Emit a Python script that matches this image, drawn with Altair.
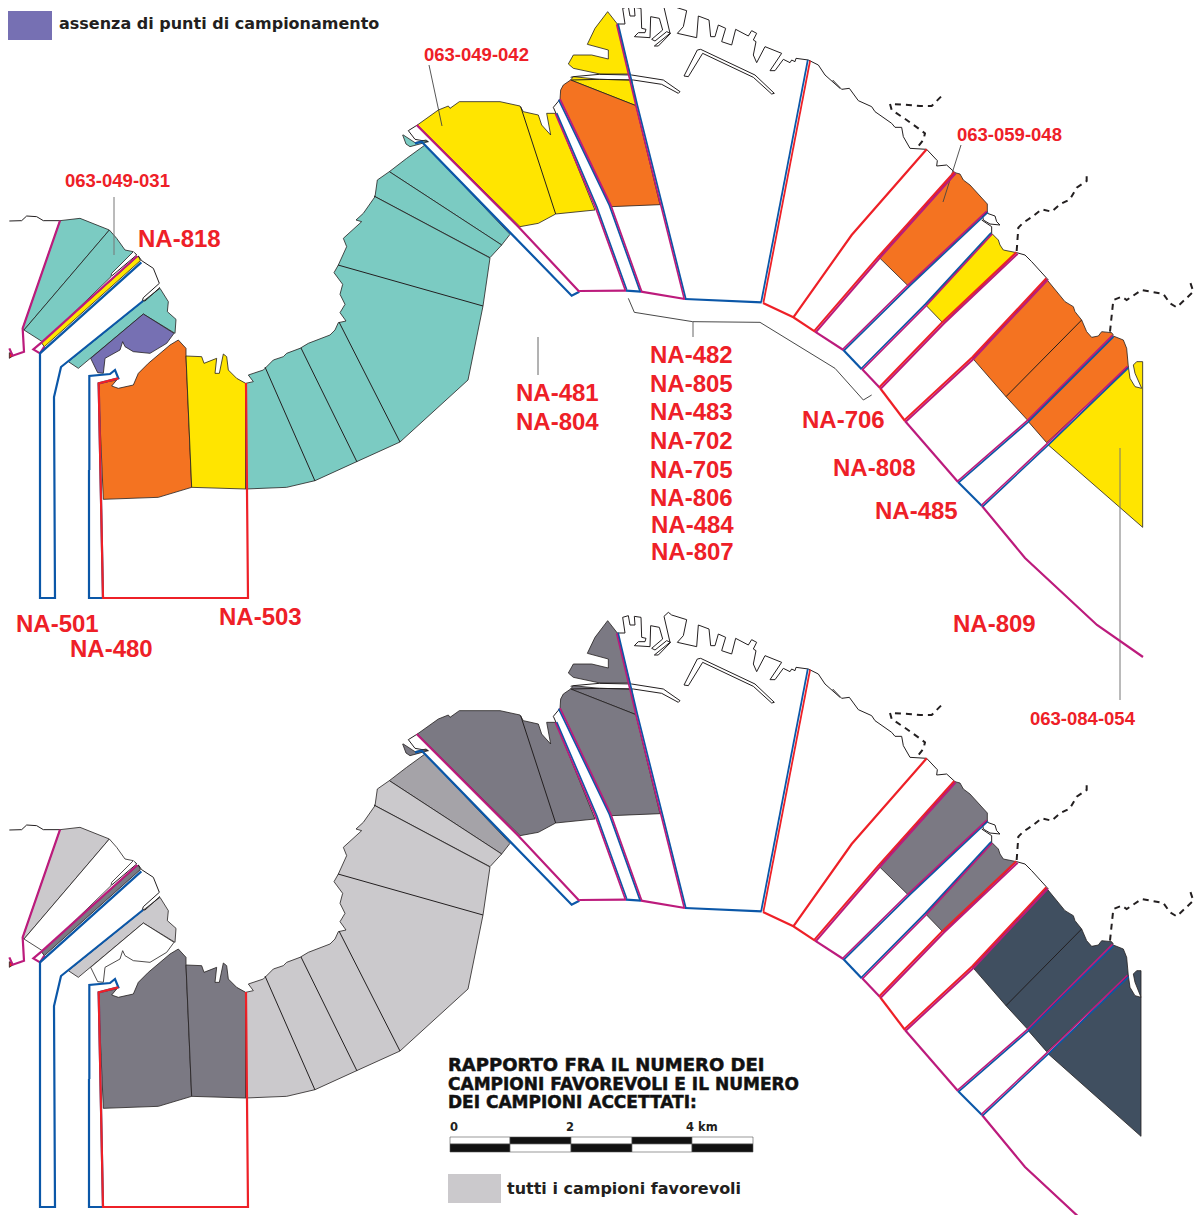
import altair as alt

# ---- colours
TEAL, ORANGE, YELLOW, PURPLE = "#7bcbc2", "#f47321", "#ffe500", "#7670b3"
DARK, MID, LIGHT, NAVY, WHITE = "#7b7983", "#a5a3a8", "#cbc9cc", "#404f60", "#ffffff"
RED, MAG, BLUE, INK = "#ee2027", "#bc1b7c", "#0b57a8", "#231f20"
PANEL_SHIFT = 609
BOTTOM_CLIP = 1141


def z(ox, oy, pts):
    """points read on a 3x crop whose corner is (ox, oy)"""
    return [[ox + a / 3, oy + b / 3] for a, b in pts]


# ---- filled zones: name, outline, fill in upper map, fill in lower map
wedge_a = z(0, 170, [(180,152),(240,145),(328,180),(72,480),(68,475)])
wedge_b = z(0, 170, [(328,180),(350,205),(375,240),(400,245),(335,310),(333,320),(130,517),(72,480)])
strip = z(0, 170, [(415,258),(421,272),(133,530),(124,518)])
narrow = z(0, 170, [(205,575),(430,393),(480,355),(505,395),(502,425),(528,448),(525,490),(430,432),(235,595)])
purple = z(0, 170, [(430,432),(522,490),(500,520),(450,550),(400,545),(375,530),(368,515),(360,540),(315,565),(310,610),(293,608),(272,565)])
orange_w = z(60, 330, [(115,160),(170,150),(155,168),(175,175),(220,165),(235,130),(265,100),(330,45),(355,30),(378,55),(378,78),(395,472),(295,502),(130,508)])
yellow_w = z(60, 330, [(378,78),(425,80),(432,100),(470,85),(465,130),(478,130),(490,72),(500,80),(505,120),(530,145),(557,160),(557,477),(395,472)])
lobe_1 = z(300, 0, [(375,435),(320,475),(268,515),(605,735),(630,703)])
lobe_2 = z(300, 0, [(268,515),(232,540),(225,590),(222,588),(570,773),(605,735)])
lobe_3 = (z(300, 0, [(225,590),(190,640),(168,660),(185,665),(130,715),(140,740),(115,795)])
          + z(330, 1, [(12,815),(38,850),(30,880),(45,910),(30,935),(48,960),(25,965)])
          + z(60, 330, [(825,0),(810,15),(745,40),(720,55),(680,70),(670,80),(640,90),(610,120),(565,135),(580,155),(557,160),(557,477),(680,472),(765,452),(890,395)])
          + [[400,442],[468,380],[483,306],[490,258]])
islet = z(300, 0, [(308,405),(318,432),(330,440),(385,425),(378,420),(345,428),(310,405)])
central = z(300, 0, [(352,375),(415,330),(445,318),(450,325),(478,305),(600,305),(660,318),(670,335),(715,345),(725,375),(752,405),(740,340),(768,340),(885,630),(767,642),(715,670),(660,680)])
north_1 = z(540, 0, [(203,35),(232,72),(270,222),(180,222),(100,205),(85,192),(100,165),(155,165),(205,177),(205,150),(142,133),(165,85)])
north_2 = z(540, 0, [(92,240),(100,230),(178,238),(275,240),(288,317)])
north_3 = z(540, 0, [(92,240),(288,317),(360,614),(213,620),(60,298),(62,270),(70,255)])
east_1 = z(780, 80, [(525,278),(540,282),(550,300),(570,315),(622,372),(622,395),(385,618),(297,532)])
east_2 = z(780, 80, [(635,460),(655,480),(660,495),(670,510),(710,518),(490,730),(437,675)])
east_3 = z(900, 250, [(440,88),(495,155),(520,170),(525,185),(545,210),(560,245),(575,262),(595,258),(605,245),(635,248),(640,255),(385,513),(318,440),(218,325)])
east_4 = z(900, 250, [(640,258),(670,270),(680,295),(685,350),(440,578),(385,515)])
east_5 = z(900, 250, [(685,350),(690,385),(705,410),(725,415),(705,370),(700,345),(710,335),(728,335),(728,832),(445,585)])
corner = z(0, 170, [(28,548),(40,557),(28,565)])

ZONES = [
    (wedge_a, TEAL, LIGHT), (wedge_b, TEAL, WHITE), (strip, YELLOW, DARK),
    (narrow, TEAL, LIGHT), (purple, PURPLE, WHITE), (orange_w, ORANGE, DARK),
    (yellow_w, YELLOW, DARK), (lobe_1, TEAL, MID), (lobe_2, TEAL, LIGHT),
    (lobe_3, TEAL, LIGHT), (islet, TEAL, DARK), (central, YELLOW, DARK),
    (north_1, YELLOW, DARK), (north_2, YELLOW, DARK), (north_3, ORANGE, DARK),
    (east_1, ORANGE, DARK), (east_2, YELLOW, DARK), (east_3, ORANGE, NAVY),
    (east_4, ORANGE, NAVY), (east_5, YELLOW, NAVY), (corner, RED, RED),
]

# ---- thin black lines
THIN = [
    z(0, 170, [(28,153),(65,152),(80,138),(110,140),(130,152),(180,152)]),
    z(0, 170, [(403,247),(410,255),(335,318)]),
    z(0, 170, [(415,258),(425,272),(460,295),(478,340),(430,383),(427,392),(435,393),(480,352)]),
    z(300, 0, [(352,375),(325,392),(345,418),(385,425)]),
    z(300, 0, [(662,320),(767,642)]),
    [[338,265],[483,306]], [[339,322],[400,442]], [[301,348],[357,462]], [[265,367],[315,481]],
    z(540, 0, [(60,298),(40,322),(48,340)]),
    z(540, 0, [(232,72),(255,72),(248,25),(265,20),(270,48),(285,48),(283,22),(303,25),(305,85),(318,88),(315,98),(295,98),(283,110),(330,113),(332,50),(358,55),(368,90),(335,118),(345,123),(380,95),(392,100),(355,138),(343,138),(390,100),(372,22),(385,10),(395,18),(440,32),(430,80),(412,100),(470,113),(475,48),(507,60),(512,110),(525,110),(535,75),(557,85),(545,125),(575,135),(587,88),(625,108),(635,92),(650,100),(640,120),(648,125),(640,165),(650,188),(675,140),(725,160),(690,212),(705,212),(730,178),(750,188),(755,180),(765,185),(768,175),(805,180),(835,195),(855,225),(900,265)]),
    z(540, 0, [(92,232),(100,230),(178,223),(275,225),(370,240),(420,275),(415,280),(365,253),(280,240),(178,238),(95,240)]),
    z(540, 0, [(432,228),(472,150),(482,148),(645,225),(703,280),(695,282),(640,232),(488,160),(445,230),(432,228)]),
    z(780, 80, [(158,0),(185,28),(208,25),(235,62),(275,80),(285,95),(335,130),(345,142),(365,142),(370,170),(390,205),(440,208),(472,242),(470,258),(500,255),(525,278)]),
    z(780, 80, [(622,395),(608,408),(610,420),(630,432),(660,435),(650,425),(645,408),(622,400)]),
    z(780, 80, [(605,420),(635,440),(635,460)]),
    z(780, 80, [(710,518),(735,525),(755,545),(805,600)]),
    z(900, 250, [(545,210),(318,440)]),
]

# ---- coloured boundary lines: outline, colour, width, sideways nudge
COLOURED = [
    (z(0, 170, [(180,152),(68,475),(72,545),(38,557),(28,535)]), MAG, 2.2, (0, 0)),
    (z(0, 170, [(125,517),(100,538),(120,550),(133,530)]), MAG, 2.2, (0, 0)),
    (z(0, 170, [(412,258),(125,517)]), MAG, 2.2, (0, 0)),
    (z(0, 170, [(424,277),(120,550),(120,900)]) + [[40, 598], [55, 598], [54, 397], [61, 367], [143, 301]], BLUE, 2.2, (0, 0)),
    (z(0, 170, [(268,900),(268,618),(330,612),(345,600),(355,625),(296,640)]) + [[103, 598], [89, 598], [89, 470]], BLUE, 2.2, (0, 0)),
    (z(0, 170, [(355,625),(296,640)]) + [[103, 598], [248, 598], [246, 383]], RED, 2.2, (0, 0)),
    (z(300, 0, [(345,430),(365,425),(815,887),(838,875)]), BLUE, 2.2, (0, 0)),
    (z(300, 0, [(350,375),(655,680),(838,875)]), MAG, 2.2, (0, 0)),
    (z(540, 0, [(118,873),(258,872)]), MAG, 2.2, (0, 0)),
    (z(540, 0, [(258,872),(303,875)]), BLUE, 2.2, (0, 0)),
    (z(540, 0, [(303,875),(435,897)]), MAG, 2.2, (0, 0)),
    (z(540, 0, [(435,897),(665,907)]), BLUE, 2.2, (0, 0)),
    # channel beside the harbour
    (z(540, 0, [(48,340),(168,620),(258,870)]), BLUE, 1.7, (0.7, -0.2)),
    (z(540, 0, [(48,340),(168,620),(258,870)]), MAG, 1.7, (-0.7, 0.2)),
    (z(540, 0, [(58,298),(210,615),(303,875)]), BLUE, 1.7, (-0.7, 0.2)),
    (z(540, 0, [(58,298),(210,615),(303,875)]), MAG, 1.7, (0.7, -0.2)),
    # harbour sides
    (z(540, 0, [(232,72),(290,317),(435,897)]), BLUE, 1.8, (0.7, -0.2)),
    (z(540, 0, [(232,72),(290,317),(435,897)]), MAG, 1.6, (-0.7, 0.2)),
    (z(540, 0, [(805,180),(665,907)]), BLUE, 1.8, (-0.5, -0.1)),
    (z(540, 0, [(810,182),(670,908)]), RED, 1.8, (0.1, 0)),
    # south-east shore
    ([[763, 303]] + z(780, 80, [(40,712),(105,755)]), RED, 2.2, (0, 0)),
    (z(780, 80, [(105,755),(190,810)]), MAG, 2.2, (0, 0)),
    (z(780, 80, [(190,810),(245,868)]), BLUE, 2.2, (0, 0)),
    ([[862, 369], [880, 388]], MAG, 2.2, (0, 0)),
    ([[880, 388], [905, 421]], RED, 2.2, (0, 0)),
    ([[905, 421], [958, 482]], MAG, 2.2, (0, 0)),
    ([[958, 482], [982, 506]], BLUE, 2.2, (0, 0)),
    ([[982, 506], [1025, 558], [1097, 625], [1143, 657]], MAG, 2.2, (0, 0)),
    # diagonal limits
    (z(780, 80, [(440,208),(215,465),(40,712)]), RED, 2.2, (0, 0)),
    (z(780, 80, [(525,278),(297,532),(105,755)]), RED, 2.0, (-0.7, -0.7)),
    (z(780, 80, [(525,278),(297,532),(105,755)]), MAG, 2.0, (0.7, 0.7)),
    (z(780, 80, [(622,395),(385,618),(190,810)]), BLUE, 1.6, (0.6, 0.6)),
    (z(780, 80, [(622,395),(385,618),(190,810)]), MAG, 1.6, (-0.6, -0.6)),
    (z(780, 80, [(635,460),(437,675),(245,868)]), BLUE, 1.6, (-0.6, -0.6)),
    (z(780, 80, [(635,460),(437,675),(245,868)]), MAG, 1.6, (0.6, 0.6)),
    ([[1017, 253], [943, 323], [880, 388]], RED, 2.0, (-0.7, -0.7)),
    ([[1017, 253], [943, 323], [880, 388]], MAG, 2.0, (0.7, 0.7)),
    ([[1047, 279], [973, 358], [905, 421]], RED, 2.0, (-0.7, -0.7)),
    ([[1047, 279], [973, 358], [905, 421]], MAG, 2.0, (0.7, 0.7)),
    ([[1113, 336], [1028, 421], [958, 482]], BLUE, 1.6, (0.6, 0.6)),
    ([[1113, 336], [1028, 421], [958, 482]], MAG, 1.6, (-0.6, -0.6)),
    ([[1128, 367], [1048, 444], [982, 506]], BLUE, 1.6, (0.6, 0.6)),
    ([[1128, 367], [1048, 444], [982, 506]], MAG, 1.6, (-0.6, -0.6)),
]

# ---- dashed borders on land
DASHED = [
    z(780, 80, [(483,50),(455,78),(420,78),(385,75),(330,72),(335,90),(380,120),(415,145),(435,160),(430,180),(410,205)]),
    z(860, 171, [(470,240),(475,170),(490,155),(520,135),(545,115),(575,122),(600,100),(630,85),(650,50),(680,30),(680,15)]),
    z(900, 250, [(630,245),(640,150),(665,140),(680,150),(725,120),(790,132),(810,160),(830,172),(880,125),(870,95)]),
]

# ---- leaders, only on the upper map
LEADERS = [
    ([[114, 197], [114, 255]], "#777777", 1.0),
    ([[429, 65], [442, 126]], "#444444", 0.9),
    ([[961, 145], [943, 202]], "#444444", 0.9),
    ([[1120, 448], [1120, 700]], "#777777", 1.0),
    ([[538, 337], [538, 375]], "#555555", 0.9),
    ([[693, 322], [693, 337]], "#555555", 0.9),
    (z(540, 280, [(265,55),(283,97),(458,125),(660,127),(885,265),(970,360),(995,345)]), "#333333", 0.9),
]

# ---- labels
NA_LABELS = [
    ("NA-818", 138, 247), ("NA-481", 516, 401), ("NA-804", 516, 430),
    ("NA-482", 650, 363), ("NA-805", 650, 392), ("NA-483", 650, 420), ("NA-702", 650, 449),
    ("NA-705", 650, 478), ("NA-806", 650, 506), ("NA-484", 651, 533), ("NA-807", 651, 560),
    ("NA-706", 802, 428), ("NA-808", 833, 476), ("NA-485", 875, 519), ("NA-809", 953, 632),
    ("NA-501", 16, 632), ("NA-480", 70, 657), ("NA-503", 219, 625),
]
CODE_LABELS = [
    ("063-049-031", 65, 187), ("063-049-042", 424, 61),
    ("063-059-048", 957, 141), ("063-084-054", 1030, 725),
]
NOTE_LABELS = [
    ("assenza di punti di campionamento", 59, 29),
    ("tutti i campioni favorevoli", 507, 1194),
]
TITLE_LINES = [
    ("RAPPORTO FRA IL NUMERO DEI", 448, 1071, 18),
    ("CAMPIONI FAVOREVOLI E IL NUMERO", 448, 1089.5, 17),
    ("DEI CAMPIONI ACCETTATI:", 448, 1108, 17),
]
SCALE_TEXT = [("0", 450, 1131), ("2", 566, 1131), ("4 km", 686, 1131)]
SCALE_EDGES = [450, 510, 571, 632, 692, 753]
SCALE_ROWS = [(1137, 1144, ["#ffffff", "#111111", "#ffffff", "#111111", "#ffffff"]),
              (1144, 1152, ["#111111", "#ffffff", "#111111", "#ffffff", "#111111"])]
SWATCHES = [(0, 52, 11, 40, PURPLE), (448, 501, 1174, 1203, LIGHT)]

# ---- tables
def feature(kind, pts, **props):
    coords = [pts + [pts[0]]] if kind == "Polygon" else pts
    return {"type": "Feature", "geometry": {"type": kind, "coordinates": coords}, "properties": props}


def shifted(pts, dy=0, clip=None, nudge=(0, 0)):
    out = []
    for x, y in pts:
        x += nudge[0]
        if clip is not None:
            x = min(x, clip)
        out.append([x, y + nudge[1] + dy])
    return out


zone_rows, thin_rows, colour_rows, dash_rows = [], [], [], []
for pts, top, bottom in ZONES:
    zone_rows.append(feature("Polygon", shifted(pts), fill=top))
    zone_rows.append(feature("Polygon", shifted(pts, PANEL_SHIFT, BOTTOM_CLIP), fill=bottom))
for pts in THIN:
    thin_rows.append(feature("LineString", shifted(pts), c=INK, w=1.0))
    thin_rows.append(feature("LineString", shifted(pts, PANEL_SHIFT, BOTTOM_CLIP), c=INK, w=1.0))
for pts, col, wid in LEADERS:
    thin_rows.append(feature("LineString", shifted(pts), c=col, w=wid))
for pts, col, wid, nudge in COLOURED:
    colour_rows.append(feature("LineString", shifted(pts, nudge=nudge), c=col, w=wid))
    colour_rows.append(feature("LineString", shifted(pts, PANEL_SHIFT, BOTTOM_CLIP, nudge), c=col, w=wid))
for pts in DASHED:
    dash_rows.append(feature("LineString", shifted(pts)))
    dash_rows.append(feature("LineString", shifted(pts, PANEL_SHIFT)))

proj = dict(type="identity", scale=1, translate=[-8, -8])
X = alt.X("x:Q", scale=alt.Scale(domain=[8, 1194], range=[0, 1186], nice=False, zero=False), axis=None)
Y = alt.Y("y:Q", scale=alt.Scale(domain=[8, 1215], range=[0, 1207], nice=False, zero=False), axis=None)
X2, Y2 = alt.X2("x2:Q"), alt.Y2("y2:Q")

zones = alt.Chart(alt.Data(values=zone_rows)).mark_geoshape(stroke=INK, strokeWidth=0.8).encode(
    fill=alt.Fill("properties.fill:N", scale=None)).project(**proj)
thin = alt.Chart(alt.Data(values=thin_rows)).mark_geoshape(filled=False).encode(
    stroke=alt.Stroke("properties.c:N", scale=None),
    strokeWidth=alt.StrokeWidth("properties.w:Q", scale=None)).project(**proj)
coloured = alt.Chart(alt.Data(values=colour_rows)).mark_geoshape(filled=False).encode(
    stroke=alt.Stroke("properties.c:N", scale=None),
    strokeWidth=alt.StrokeWidth("properties.w:Q", scale=None)).project(**proj)
dashed = alt.Chart(alt.Data(values=dash_rows)).mark_geoshape(
    filled=False, stroke=INK, strokeWidth=2, strokeDash=[6, 5]).project(**proj)

bar_rows = [{"x": SCALE_EDGES[i], "x2": SCALE_EDGES[i + 1], "y": top, "y2": bot, "f": cols[i]}
            for top, bot, cols in SCALE_ROWS for i in range(5)]
bars = alt.Chart(alt.Data(values=bar_rows)).mark_rect(stroke="#555555", strokeWidth=0.6).encode(
    x=X, x2=X2, y=Y, y2=Y2, fill=alt.Fill("f:N", scale=None))
swatches = alt.Chart(alt.Data(values=[
    {"x": a, "x2": b, "y": c, "y2": d, "f": f} for a, b, c, d, f in SWATCHES
])).mark_rect().encode(x=X, x2=X2, y=Y, y2=Y2, fill=alt.Fill("f:N", scale=None))


def text_layer(rows, font, size, color, **kw):
    data = alt.Data(values=[{"t": t, "x": x, "y": y} for t, x, y in rows])
    return alt.Chart(data).mark_text(align="left", baseline="alphabetic", font=font, fontWeight="bold",
                                     fontSize=size, color=color, **kw).encode(x=X, y=Y, text="t:N")


layers = [zones, thin, coloured, dashed, swatches, bars,
          text_layer(NA_LABELS, "Liberation Sans", 24, RED),
          text_layer(CODE_LABELS, "Liberation Sans", 18.5, RED),
          text_layer(NOTE_LABELS, "DejaVu Sans", 16, "#231f20"),
          text_layer(SCALE_TEXT, "DejaVu Sans", 11.5, "#231f20")]
for t, x, y, s in TITLE_LINES:
    layers.append(text_layer([(t, x, y)], "DejaVu Sans", s, "#111111", stroke="#111111", strokeWidth=0.5))

chart = alt.layer(*layers).properties(
    width=1186, height=1207, padding=0, autosize=alt.AutoSizeParams(type="none"),
).configure_view(stroke=None)

chart.save("out.html", embed_options={"renderer": "svg", "actions": False})
